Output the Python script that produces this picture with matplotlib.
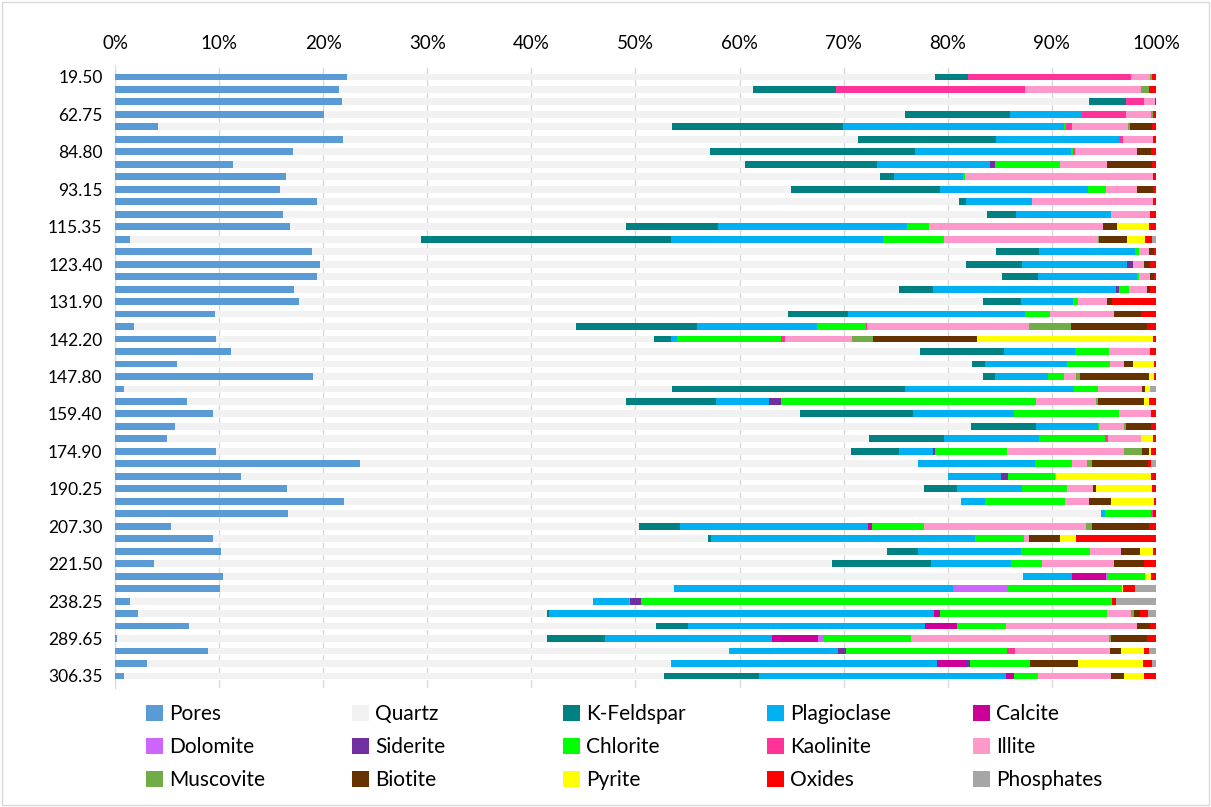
import matplotlib.pyplot as plt
from matplotlib.patches import Rectangle

plt.rcParams['font.family'] = ['Lato', 'DejaVu Sans']

minerals = ["Pores", "Quartz", "K-Feldspar", "Plagioclase", "Calcite",
            "Dolomite", "Siderite", "Chlorite", "Kaolinite", "Illite",
            "Muscovite", "Biotite", "Pyrite", "Oxides", "Phosphates"]

colors = ["#5B9BD5", "#F2F2F2", "#008080", "#00B0F0", "#CC0099",
          "#CC66FF", "#7030A0", "#00FF00", "#FF3399", "#FF99CC",
          "#70AD47", "#663300", "#FFFF00", "#FF0000", "#A6A6A6"]

# depth labels shown on the axis (every third sample)
depth_labels = ["19.50", "62.75", "84.80", "93.15", "115.35", "123.40", "131.90",
                "142.20", "147.80", "159.40", "174.90", "190.25", "207.30",
                "221.50", "238.25", "289.65", "306.35"]

# composition (%) per sample, top to bottom
# order: Pores, Quartz, K-Feldspar, Plagioclase, Calcite, Dolomite, Siderite,
#        Chlorite, Kaolinite, Illite, Muscovite, Biotite, Pyrite, Oxides, Phosphates
samples = [
    [22.3, 56.5, 3.1, 0, 0, 0, 0, 0, 15.7, 1.8, 0.2, 0, 0, 0.4, 0],
    [21.5, 39.8, 8.0, 0, 0, 0, 0, 0, 18.1, 11.2, 0.7, 0, 0, 0.7, 0],
    [21.8, 71.8, 3.5, 0, 0, 0, 0, 0, 1.8, 1.0, 0, 0, 0, 0.1, 0],
    [20.1, 55.8, 10.1, 6.9, 0, 0, 0, 0, 4.2, 2.4, 0.2, 0, 0, 0.3, 0],
    [4.1, 49.4, 16.4, 21.3, 0, 0, 0, 0.2, 0.5, 5.4, 0.2, 2.1, 0, 0.4, 0],
    [21.9, 49.5, 13.2, 11.9, 0, 0, 0, 0, 0.3, 2.9, 0, 0, 0, 0.3, 0],
    [17.1, 40.1, 19.7, 14.9, 0, 0, 0, 0.2, 0.2, 6.0, 0, 1.3, 0, 0.5, 0],
    [11.3, 49.2, 12.7, 10.9, 0, 0, 0.4, 6.3, 0, 4.5, 0, 4.3, 0, 0.4, 0],
    [16.4, 57.1, 1.3, 6.7, 0, 0, 0, 0.2, 0, 18.0, 0, 0, 0, 0.3, 0],
    [15.8, 49.1, 14.4, 14.2, 0, 0, 0, 1.7, 0, 3.0, 0, 1.5, 0, 0.3, 0],
    [19.4, 61.7, 0.7, 6.3, 0, 0, 0, 0, 0, 11.6, 0, 0, 0, 0.3, 0],
    [16.1, 67.7, 2.8, 9.1, 0, 0, 0, 0, 0, 3.7, 0, 0, 0, 0.6, 0],
    [16.8, 32.3, 8.8, 18.2, 0, 0, 0, 2.1, 0, 16.7, 0, 1.4, 3.0, 0.7, 0],
    [1.4, 28.0, 24.0, 20.4, 0, 0, 0, 5.8, 0, 14.8, 0.1, 2.7, 1.8, 0.6, 0.4],
    [18.9, 65.7, 4.2, 9.2, 0, 0, 0, 0.4, 0, 0.9, 0, 0.5, 0, 0.2, 0],
    [19.7, 62.1, 5.3, 10.1, 0, 0, 0.6, 0, 0, 1.1, 0, 0.5, 0, 0.6, 0],
    [19.4, 65.8, 3.5, 9.5, 0, 0, 0, 0.2, 0, 1.0, 0, 0.4, 0, 0.2, 0],
    [17.2, 58.1, 3.3, 17.6, 0, 0, 0.3, 0.9, 0, 1.7, 0, 0.3, 0, 0.6, 0],
    [17.7, 65.7, 3.6, 5.0, 0, 0, 0, 0.5, 0, 2.8, 0, 0.5, 0, 4.2, 0],
    [9.6, 55.1, 5.7, 17.0, 0, 0, 0, 2.4, 0, 6.2, 0, 2.6, 0, 1.4, 0],
    [1.8, 42.5, 11.6, 11.5, 0, 0, 0, 4.7, 0.1, 15.6, 4.0, 7.3, 0, 0.9, 0],
    [9.7, 42.1, 1.6, 0.6, 0, 0, 0, 10.0, 0.4, 6.4, 2.0, 10.0, 16.9, 0.3, 0],
    [11.1, 66.2, 8.1, 6.8, 0, 0, 0, 3.3, 0, 3.9, 0, 0, 0, 0.6, 0],
    [6.0, 76.3, 1.3, 7.9, 0, 0, 0, 4.1, 0, 1.3, 0, 0.9, 2.0, 0.2, 0],
    [19.0, 64.4, 1.1, 5.1, 0, 0, 0, 1.6, 0, 1.1, 0.4, 6.6, 0.5, 0.2, 0],
    [0.9, 52.6, 22.4, 16.2, 0, 0, 0, 2.3, 0, 4.3, 0, 0.3, 0.4, 0, 0.6],
    [6.9, 42.2, 8.6, 5.1, 0, 0, 1.2, 24.5, 0, 5.7, 0.2, 4.5, 0.4, 0.7, 0],
    [9.4, 56.4, 10.9, 9.7, 0, 0, 0, 10.1, 0, 3.0, 0, 0, 0, 0.5, 0],
    [5.8, 76.4, 6.3, 5.9, 0, 0, 0, 0.1, 0, 2.4, 0.2, 2.4, 0, 0.5, 0],
    [5.0, 67.4, 7.2, 9.2, 0, 0, 0, 6.3, 0.3, 3.2, 0, 0, 1.1, 0.3, 0],
    [9.7, 61.0, 4.6, 3.3, 0, 0, 0.2, 6.9, 0, 11.2, 1.8, 0.6, 0.2, 0.5, 0],
    [23.5, 53.6, 0, 11.3, 0, 0, 0, 3.5, 0, 1.5, 0.5, 5.3, 0, 0.3, 0.5],
    [12.1, 67.9, 0, 5.1, 0, 0, 0.7, 4.5, 0, 0.1, 0, 0, 9.1, 0.5, 0],
    [16.5, 61.2, 3.2, 6.2, 0, 0, 0, 4.4, 0, 2.5, 0, 0.2, 5.4, 0.4, 0],
    [22.0, 59.3, 0, 2.3, 0, 0, 0, 7.7, 0, 2.3, 0, 2.1, 4.1, 0.2, 0],
    [16.6, 78.1, 0, 0.4, 0, 0, 0, 4.4, 0.2, 0, 0, 0, 0, 0.3, 0],
    [5.4, 44.9, 4.0, 18.0, 0.4, 0, 0, 5.0, 0, 15.6, 0.6, 5.4, 0, 0.7, 0],
    [9.4, 47.6, 0.3, 25.3, 0, 0, 0, 4.7, 0, 0.5, 0, 3.0, 1.5, 7.7, 0],
    [10.2, 64.0, 2.9, 9.9, 0, 0, 0, 6.7, 0, 2.9, 0, 1.9, 1.2, 0.3, 0],
    [3.7, 65.2, 9.5, 7.7, 0, 0, 0, 3.0, 0, 6.9, 0, 2.9, 0, 1.1, 0],
    [10.4, 76.8, 0, 4.7, 3.3, 0.2, 0, 3.6, 0, 0, 0, 0, 0.5, 0.5, 0],
    [10.1, 43.6, 0, 26.8, 0, 5.3, 0, 10.9, 0, 0, 0, 0, 0.1, 1.2, 2.0],
    [1.4, 44.5, 0, 3.5, 0, 0.1, 1.0, 45.3, 0, 0, 0, 0, 0, 0.4, 3.8],
    [2.2, 39.3, 0.2, 37.0, 0.6, 0, 0, 16.0, 0, 2.3, 0.3, 0.6, 0, 0.7, 0.8],
    [7.1, 44.9, 3.0, 22.8, 3.1, 0, 0, 4.7, 0, 12.6, 0, 1.2, 0, 0.6, 0],
    [0.2, 41.3, 5.6, 16.0, 4.4, 0.5, 0, 8.5, 0, 19.0, 0.2, 3.4, 0, 0.9, 0],
    [8.9, 50.1, 0, 10.5, 0, 0, 0.7, 15.5, 0.8, 9.1, 0, 1.0, 2.3, 0.4, 0.7],
    [3.1, 50.3, 0, 25.6, 2.8, 0, 0.3, 5.8, 0, 0, 0, 4.6, 6.3, 0.8, 0.4],
    [0.9, 51.8, 9.2, 23.7, 0.8, 0, 0, 2.3, 0, 7.0, 0, 1.2, 2.0, 1.1, 0],
]

n = len(samples)
rows = list(range(n))

fig = plt.figure(figsize=(12.11, 8.07), dpi=100)
ax = fig.add_axes([0.095, 0.1475, 0.8595, 0.772])

left = [0.0] * n
handles = []
for j, name in enumerate(minerals):
    vals = [s[j] / sum(s) * 100 for s in samples]
    h = ax.barh(rows, vals, left=left, height=0.55, color=colors[j],
                label=name, zorder=3, linewidth=0)
    handles.append(h)
    left = [a + b for a, b in zip(left, vals)]

ax.set_xlim(0, 100)
ax.set_ylim(n - 1 + 0.96, -0.96)
ax.xaxis.tick_top()
ax.set_xticks(range(0, 101, 10))
ax.set_xticklabels([f"{v}%" for v in range(0, 101, 10)], fontsize=13.5)
ax.set_yticks(rows[::3])
ax.set_yticklabels(depth_labels, fontsize=12.5)
ax.tick_params(length=0, pad=9)
ax.xaxis.grid(True, color="#D9D9D9", linestyle=(0, (6, 3)), linewidth=1, zorder=0)
for side in ["top", "right", "bottom"]:
    ax.spines[side].set_visible(False)
ax.spines["left"].set_color("#D9D9D9")

# legend: 5 fixed-width columns, read row by row
col_x = [146, 352, 563, 767, 973]
for c, x in enumerate(col_x):
    idx = [c, c + 5, c + 10]
    fig.legend([handles[i] for i in idx], [minerals[i] for i in idx],
               loc="upper left", bbox_to_anchor=(x / 1211, 1 - 704 / 807),
               frameon=False, fontsize=15, handlelength=0.8, handleheight=0.8,
               handletextpad=0.3, labelspacing=0.62, borderpad=0,
               borderaxespad=0)

fig.patches.append(Rectangle((0.002, 0.003), 0.996, 0.994, transform=fig.transFigure,
                             fill=False, edgecolor="#D9D9D9", linewidth=1))

fig.savefig("out.png", dpi=100)
